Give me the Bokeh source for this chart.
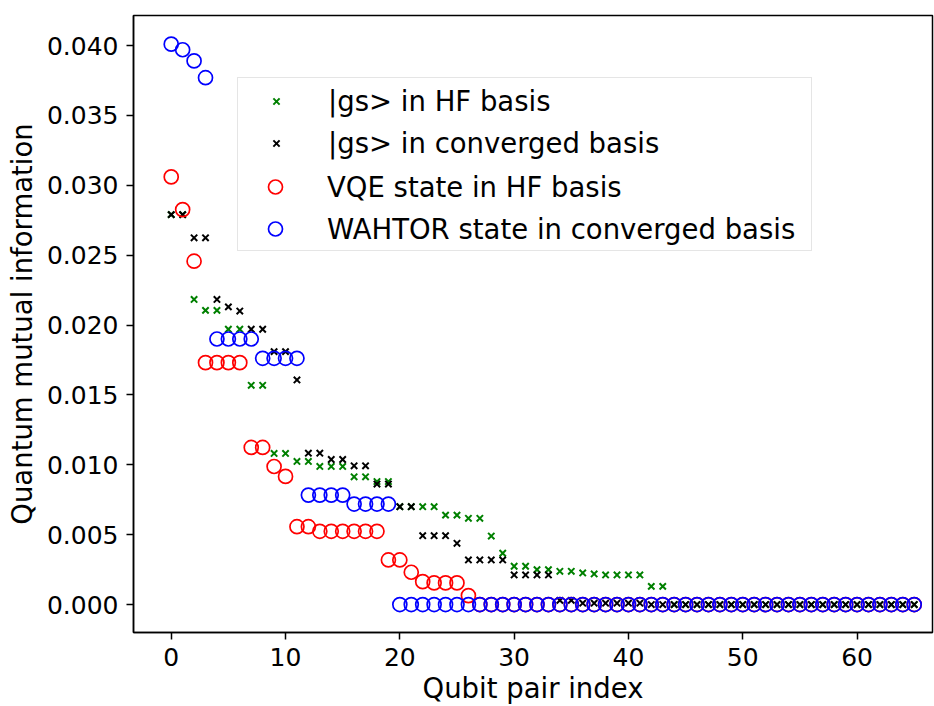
from bokeh.plotting import figure
from bokeh.models import Range1d, FixedTicker, PrintfTickFormatter, Legend, LegendItem, ColumnDataSource
from bokeh.embed import file_html
from bokeh.resources import INLINE

# ---- data ----
pair_index = list(range(66))

gs_hf = [0.0279, 0.0279, 0.02183, 0.02105, 0.02105, 0.0197, 0.0197, 0.01569, 0.01569,
         0.01081, 0.01081, 0.01024, 0.01024, 0.00988, 0.00988, 0.00988, 0.00914, 0.00914,
         0.0088, 0.0088, 0.0070, 0.0070, 0.0070, 0.0070, 0.0064, 0.0064, 0.00617, 0.00617,
         0.0049, 0.00367, 0.00274, 0.00274, 0.0025, 0.0025, 0.00238, 0.00238, 0.00226,
         0.00219, 0.00212, 0.00212, 0.00212, 0.00212, 0.0013, 0.0013] + [0.0] * 22

gs_conv = [0.0279, 0.0279, 0.02624, 0.02624, 0.02183, 0.0213, 0.0210, 0.0197, 0.0197,
           0.0181, 0.0181, 0.01607, 0.01083, 0.01083, 0.01038, 0.01038, 0.00993, 0.00993,
           0.00862, 0.00862, 0.0070, 0.0070, 0.00493, 0.00493, 0.00493, 0.00438, 0.00319,
           0.00319, 0.00319, 0.00319, 0.00212, 0.00212, 0.00212, 0.00212, 0.0003, 0.0003,
           0.0001, 0.0001, 0.0001, 0.0001, 0.0001, 0.0001] + [0.0] * 24

vqe_hf = [0.0306, 0.02826, 0.02457, 0.01731, 0.01731, 0.01731, 0.01731, 0.01124, 0.01124,
          0.00988, 0.00917, 0.00557, 0.00557, 0.00524, 0.00524, 0.00524, 0.00524, 0.00524,
          0.00524, 0.00319, 0.00319, 0.00231, 0.00164, 0.00155, 0.00155, 0.00155,
          0.00064] + [0.0] * 39

wahtor_conv = [0.0401, 0.0397, 0.0389, 0.0377, 0.0190, 0.0190, 0.0190, 0.0190, 0.01762,
               0.01762, 0.01762, 0.01762, 0.00783, 0.00783, 0.00783, 0.00783, 0.00719,
               0.00719, 0.00719, 0.00719] + [0.0] * 46

labels = ["|gs> in HF basis", "|gs> in converged basis",
          "VQE state in HF basis", "WAHTOR state in converged basis"]
x_ticks = [0, 10, 20, 30, 40, 50, 60]
y_ticks = [0.0, 0.005, 0.010, 0.015, 0.020, 0.025, 0.030, 0.035, 0.040]

FONT = "DejaVu Sans"
LEG_FS = "27.5px"

p = figure(width=934, height=706, output_backend="svg", toolbar_location=None,
           x_range=Range1d(-3.3, 66.6), y_range=Range1d(-0.002, 0.04215),
           min_border_left=133, min_border_right=2, min_border_top=15, min_border_bottom=74)
p.background_fill_color = "white"
p.border_fill_color = "white"
p.outline_line_color = "black"
p.outline_line_width = 1.5
p.xgrid.visible = False
p.ygrid.visible = False

src = ColumnDataSource(dict(x=pair_index, g=gs_hf, k=gs_conv, r=vqe_hf, b=wahtor_conv))

r1 = p.scatter("x", "g", source=src, marker="x", size=9, line_color="#008000", line_width=2)
r2 = p.scatter("x", "k", source=src, marker="x", size=9, line_color="black", line_width=2)
r3 = p.scatter("x", "r", source=src, marker="circle", size=14, fill_color=None,
               line_color="#ff0000", line_width=1.7)
r4 = p.scatter("x", "b", source=src, marker="circle", size=14, fill_color=None,
               line_color="#0000ff", line_width=1.7)
# invisible placeholder used only to reserve legend rows
dummy = p.scatter(x=[], y=[], marker="circle", size=1, fill_alpha=0, line_alpha=0)

for ax in (p.xaxis[0], p.yaxis[0]):
    ax.major_label_text_font = FONT
    ax.major_label_text_font_size = "25px"
    ax.major_label_text_color = "black"
    ax.axis_label_text_font = FONT
    ax.axis_label_text_font_size = "27.5px"
    ax.axis_label_text_font_style = "normal"
    ax.axis_label_text_color = "black"
    ax.major_tick_out = 7
    ax.major_tick_in = 0
    ax.minor_tick_out = 0
    ax.minor_tick_in = 0
    ax.major_tick_line_width = 1.5
    ax.axis_line_width = 1.5

p.xaxis.ticker = FixedTicker(ticks=x_ticks)
p.yaxis.ticker = FixedTicker(ticks=y_ticks)
p.yaxis.formatter = PrintfTickFormatter(format="%.3f")
p.xaxis.axis_label = "Qubit pair index"
p.yaxis.axis_label = "Quantum mutual information"
p.xaxis.major_label_standoff = 8
p.xaxis.axis_label_standoff = 3
p.yaxis.major_label_standoff = 8
p.yaxis.axis_label_standoff = 6

# main legend box (x-marker rows + reserved rows)
legend_a = Legend(items=[LegendItem(label=labels[0], renderers=[r1]),
                         LegendItem(label=labels[1], renderers=[r2]),
                         LegendItem(label=" ", renderers=[dummy]),
                         LegendItem(label="  ", renderers=[dummy])],
                  location=(104, 381), margin=0, padding=7, spacing=10,
                  glyph_width=62, glyph_height=22, label_height=32, label_width=476,
                  label_standoff=21,
                  label_text_font=FONT, label_text_font_size=LEG_FS, label_text_color="black",
                  border_line_color="#cccccc", border_line_width=1.2,
                  background_fill_color="white", background_fill_alpha=0.8)
# circle-marker rows, drawn with larger glyph area so markers match the plot
legend_b = Legend(items=[LegendItem(label=labels[2], renderers=[r3]),
                         LegendItem(label=labels[3], renderers=[r4])],
                  location=(111, 386), margin=0, padding=0, spacing=7,
                  glyph_width=62, glyph_height=35, label_height=35,
                  label_standoff=21,
                  label_text_font=FONT, label_text_font_size=LEG_FS, label_text_color="black",
                  border_line_color=None, background_fill_alpha=0)
p.add_layout(legend_a, "center")
p.add_layout(legend_b, "center")

open("out.html", "w").write(file_html(p, INLINE))
